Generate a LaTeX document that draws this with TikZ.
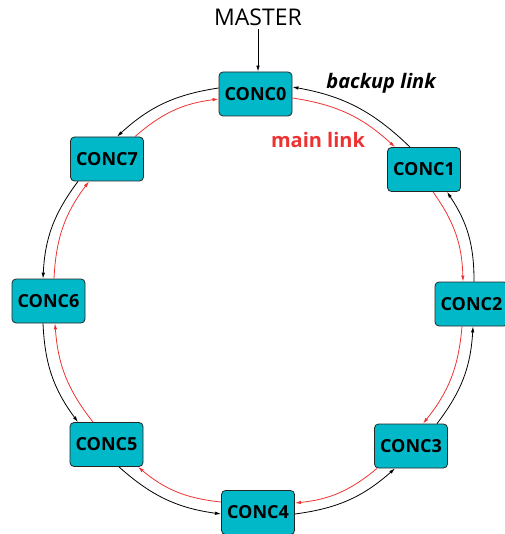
\documentclass[tikz,border=0pt]{standalone}
\usepackage{fontspec}
\setmainfont{Open Sans}
\usetikzlibrary{positioning,arrows.meta}
\definecolor{concfill}{RGB}{0,184,200}
\definecolor{linkred}{RGB}{238,50,50}

\begin{document}
\begin{tikzpicture}[x=1pt,y=-1pt,line width=0.8pt,
conc/.style={rectangle,rounded corners=4pt,draw=black!85,fill=concfill,
minimum width=73pt,minimum height=44pt,inner sep=0pt,
font=\fontsize{18}{18}\selectfont\bfseries},
backup/.style={-{Latex[length=6pt,width=3.5pt]},black,bend right=17},
main/.style={-{Latex[length=6pt,width=3.5pt]},linkred,bend left=17}]
\useasboundingbox (0,0) rectangle (504,534);
\node[conc] (c0) at (255.5,94) {CONC0};
\node[conc] (c1) at (424,169.5) {CONC1};
\node[conc] (c2) at (471.5,304) {CONC2};
\node[conc] (c3) at (411,446) {CONC3};
\node[conc] (c4) at (258,512.5) {CONC4};
\node[conc] (c5) at (106.5,444.5) {CONC5};
\node[conc] (c6) at (48.5,301) {CONC6};
\node[conc] (c7) at (107,159) {CONC7};
\node[font=\fontsize{23}{23}\selectfont] (master) at (258,17) {MASTER};
\node[font=\fontsize{20}{20}\selectfont\bfseries\itshape] (backuplbl) at (381,83) {backup link};
\node[font=\fontsize{20}{20}\selectfont\bfseries,text=linkred] (mainlbl) at (318,140) {main link};
\draw[-{Latex[length=6pt,width=3.5pt]}] (master) -- (master |- c0.north);
% backup link (outer ring)
\draw[backup] ([xshift=-14pt]c1.north) to ([yshift=7pt]c0.east);
\draw[backup] ([yshift=6pt]c0.west) to ([xshift=10pt]c7.north);
\draw[backup] ([xshift=-29pt]c7.south) to ([xshift=-5.5pt]c6.north);
\draw[backup] ([xshift=-5.5pt]c6.south) to ([xshift=-28.5pt]c5.north);
\draw[backup] ([xshift=12.5pt]c5.south) to ([yshift=-1.5pt]c4.west);
\draw[backup] ([yshift=-1.5pt]c4.east) to ([xshift=-16pt]c3.south);
\draw[backup] ([xshift=26pt]c3.north) to ([xshift=1.5pt]c2.south);
\draw[backup] ([xshift=2.5pt]c2.north) to ([xshift=23pt]c1.south);
% main link (inner ring)
\draw[main] ([yshift=-4pt]c0.east) to ([xshift=-29pt]c1.north);
\draw[main] ([xshift=9pt]c1.south) to ([xshift=-8.5pt]c2.north);
\draw[main] ([xshift=-9.5pt]c2.south) to ([xshift=12pt]c3.north);
\draw[main] ([xshift=-34pt]c3.south) to ([yshift=9.5pt]c4.east);
\draw[main] ([yshift=10.5pt]c4.west) to ([xshift=31.5pt]c5.south);
\draw[main] ([xshift=-13.5pt]c5.north) to ([xshift=6.5pt]c6.south);
\draw[main] ([xshift=5.5pt]c6.north) to ([xshift=-18pt]c7.south);
\draw[main] ([xshift=28pt]c7.north) to ([yshift=-5pt]c0.west);
\end{tikzpicture}
\end{document}
